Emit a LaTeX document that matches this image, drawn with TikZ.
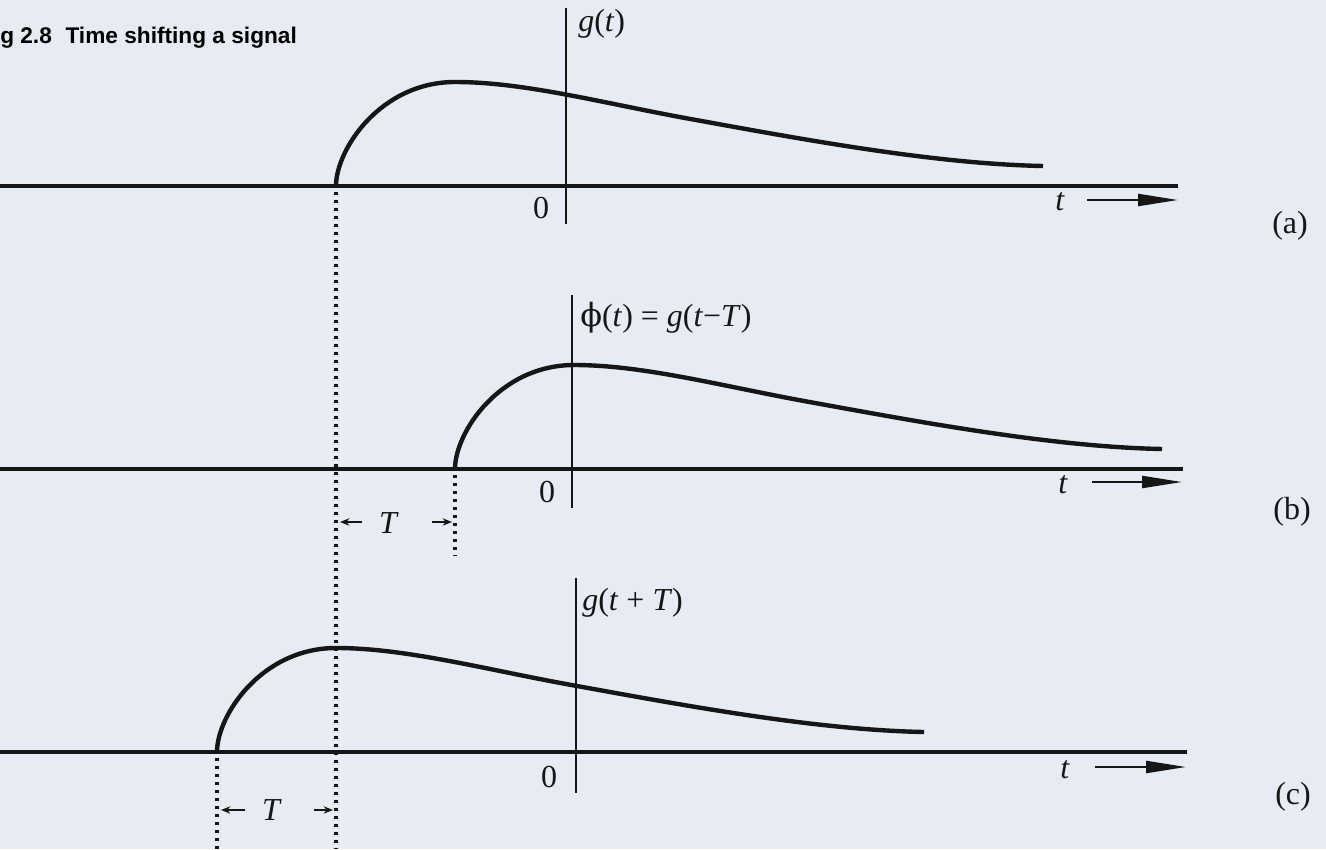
\documentclass[tikz,border=0pt]{standalone}
\usepackage{fontspec}
\setmainfont{Liberation Serif}
\newfontfamily\titlefont{Liberation Sans}
\newfontfamily\phifont{DejaVu Serif}
\usetikzlibrary{arrows.meta}
\definecolor{paper}{RGB}{231,235,243}
\definecolor{ink}{RGB}{22,22,22}
\newcommand\vi[1]{\textit{#1}}
\begin{document}
\begin{tikzpicture}[x=0.75pt,y=-0.75pt,
  axis/.style={draw=ink,line width=2.4pt},
  vaxis/.style={draw=ink,line width=2pt},
  curve/.style={draw=ink,line width=3.3pt},
  dotline/.style={draw=ink,line width=2.4pt,dash pattern=on 2pt off 4pt},
  tarrow/.style={draw=ink,line width=1.7pt,-{Triangle[length=30pt,width=9pt]}},
  tmark/.style={draw=ink,line width=1.4pt,-{Stealth[length=7pt,width=5.5pt]}},
  lbl/.style={text=ink,font=\fontsize{24}{28}\selectfont,inner sep=0pt},
  pulse/.pic={\draw[curve] (0,0) .. controls (0,-37) and (45,-104) .. (119,-104)
      .. controls (190,-104) and (270,-82) .. (360,-66)
      .. controls (470,-46) and (600,-22) .. (707,-20);}
]
\fill[paper] (0,0) rectangle (1326,849);
\useasboundingbox (0,0) rectangle (1326,849);

% title
\node[anchor=west,inner sep=0pt,text=black,font=\titlefont\bfseries\fontsize{17}{20}\selectfont] (title) at (0,38) {g 2.8\hspace{0.6em}Time shifting a signal};

% ---------- (a)
\coordinate (aL) at (0,186);
\coordinate (aR) at (1178,186);
\coordinate (aT) at (566,8);
\coordinate (aB) at (566,224);
\coordinate (aS) at (336,186);
\draw[axis] (aL) -- (aR);
\draw[vaxis] (aT) -- (aB);
\pic at (aS) {pulse};
\node[lbl,anchor=west] (ga) at (578,24) {\vi{g}(\vi{t})};
\node[lbl] (za) at (541,208) {0};
\node[lbl] (ta) at (1060,202) {\vi{t}};
\coordinate (taS) at (1087,200);
\coordinate (taE) at (1178,200);
\draw[tarrow] (taS) -- (taE);
\node[lbl] (la) at (1290,226) {(a)};

% ---------- (b)
\coordinate (bL) at (0,469);
\coordinate (bR) at (1183,469);
\coordinate (bT) at (572,295);
\coordinate (bB) at (572,508);
\coordinate (bS) at (455,469);
\draw[axis] (bL) -- (bR);
\draw[vaxis] (bT) -- (bB);
\pic at (bS) {pulse};
\node[lbl,anchor=west] (gb) at (580,318) {{\phifont ϕ}(\vi{t}) = \vi{g}(\vi{t}−\vi{T})};
\node[lbl] (zb) at (547,492) {0};
\node[lbl] (tb) at (1063,485) {\vi{t}};
\coordinate (tbS) at (1092,482);
\coordinate (tbE) at (1182,482);
\draw[tarrow] (tbS) -- (tbE);
\node[lbl] (lb) at (1292,512) {(b)};

% ---------- (c)
\coordinate (cL) at (0,752);
\coordinate (cR) at (1187,752);
\coordinate (cT) at (576,578);
\coordinate (cB) at (576,793);
\coordinate (cS) at (217,752);
\draw[axis] (cL) -- (cR);
\draw[vaxis] (cT) -- (cB);
\pic at (cS) {pulse};
\node[lbl,anchor=west] (gc) at (582,603) {\vi{g}(\vi{t} + \vi{T})};
\node[lbl] (zc) at (549,777) {0};
\node[lbl] (tc) at (1065,770) {\vi{t}};
\coordinate (tcS) at (1095,767);
\coordinate (tcE) at (1186,767);
\draw[tarrow] (tcS) -- (tcE);
\node[lbl] (lc) at (1293,797) {(c)};

% ---------- dotted guide lines
\coordinate (d1T) at (336,192);
\coordinate (d1B) at (336,849);
\coordinate (d2T) at (455,475);
\coordinate (d2B) at (455,556);
\coordinate (d3T) at (217,758);
\coordinate (d3B) at (217,849);
\draw[dotline] (d1T) -- (d1B);
\draw[dotline] (d2T) -- (d2B);
\draw[dotline] (d3T) -- (d3B);

% ---------- T markers (b)
\node[lbl] (Tb) at (389,523) {\vi{T}};
\coordinate (Tb1) at (362,522);
\coordinate (Tb1e) at (340,522);
\coordinate (Tb2) at (432,522);
\coordinate (Tb2e) at (452,522);
\draw[tmark] (Tb1) -- (Tb1e);
\draw[tmark] (Tb2) -- (Tb2e);

% ---------- T markers (c)
\node[lbl] (Tc) at (272,810) {\vi{T}};
\coordinate (Tc1) at (245,810);
\coordinate (Tc1e) at (221,810);
\coordinate (Tc2) at (314,810);
\coordinate (Tc2e) at (333,810);
\draw[tmark] (Tc1) -- (Tc1e);
\draw[tmark] (Tc2) -- (Tc2e);
\end{tikzpicture}
\end{document}
